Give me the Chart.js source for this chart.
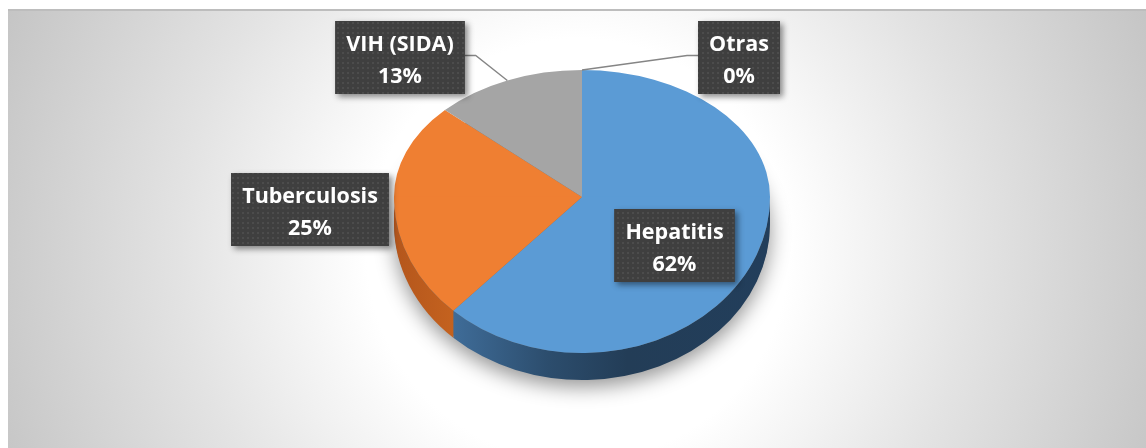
<!DOCTYPE html>
<html><head><meta charset="utf-8">
<script src="https://cdn.jsdelivr.net/npm/chart.js@4.4.0/dist/chart.umd.min.js"></script>
<style>html,body{margin:0;padding:0;background:#fff;overflow:hidden}canvas{display:block}</style>
</head><body>
<canvas id="c" width="1146" height="448"></canvas>
<script>
// ---- data ----
const categories = ['Hepatitis', 'Tuberculosis', 'VIH (SIDA)', 'Otras'];
const values = [62, 25, 13, 0];

// ---- styles ----
const topColors = ['#5b9bd5', '#ef7f32', '#a5a5a5', '#ffc000'];
const sideStops = [
  [[0, '#3f6c98'], [0.3, '#2c4d6d'], [0.55, '#233d57'], [1, '#223e5b']],
  [[0, '#b4561c'], [1, '#c4621f']],
  [[0, '#7c7c7c'], [1, '#7c7c7c']],
  [[0, '#bf9000'], [1, '#bf9000']]
];
const CY_P = 197;     // projected pie centre (y)
const RY_BACK = 127;  // projected radius of the far half
const RY_FRONT = 156; // projected radius of the near half
const DEPTH = 27;     // thickness of the pie
const FONT = 'bold 21.5px "Open Sans"';
const labelBoxes = [  // centre x, top of each label box
  { cx: 674.5, top: 209, leader: false },
  { cx: 310, top: 173, leader: false },
  { cx: 400, top: 21, leader: 'right' },
  { cx: 739, top: 21, leader: 'left' }
];

const total = values.reduce((a, b) => a + b, 0);

function dotPattern(ctx) {
  const p = document.createElement('canvas');
  p.width = 5; p.height = 5;
  const g = p.getContext('2d');
  g.fillStyle = '#3f3f3f'; g.fillRect(0, 0, 5, 5);
  g.fillStyle = '#4c4c4c'; g.fillRect(2, 2, 2, 2);
  return ctx.createPattern(p, 'repeat');
}

function projY(r, ang) {
  const s = Math.sin(ang);
  return CY_P + s * r * (s >= 0 ? RY_FRONT : RY_BACK) / 188;
}

const bgPlugin = {
  id: 'bg',
  beforeDraw(chart) {
    const ctx = chart.ctx;
    ctx.save();
    ctx.fillStyle = '#fff';
    ctx.fillRect(0, 0, chart.width, chart.height);
    const g = ctx.createRadialGradient(578, 250, 0, 578, 250, 640);
    g.addColorStop(0, '#ffffff');
    g.addColorStop(0.33, '#ffffff');
    g.addColorStop(0.62, '#e3e3e3');
    g.addColorStop(1, '#c2c2c2');
    ctx.fillStyle = g;
    ctx.fillRect(8, 9, chart.width - 8, chart.height - 9);
    ctx.fillStyle = '#bdbdbd';
    ctx.fillRect(8, 9, chart.width - 8, 2);
    ctx.restore();
  }
};

const pie3d = {
  id: 'pie3d',
  beforeDatasetsDraw(chart) {
    const ctx = chart.ctx;
    const arcs = chart.getDatasetMeta(0).data;
    const cx = arcs[0].x, cy = arcs[0].y, r = arcs[0].outerRadius;
    const kF = RY_FRONT / r, kB = RY_BACK / r;
    // soft shadow beneath
    ctx.save();
    ctx.shadowColor = 'rgba(0,0,0,0.42)';
    ctx.shadowBlur = 20;
    ctx.shadowOffsetY = 9;
    ctx.beginPath();
    ctx.ellipse(cx, CY_P + DEPTH - 2, r, r * kF, 0, 0, Math.PI, false);
    ctx.ellipse(cx, CY_P + DEPTH - 2, r, r * kB, 0, Math.PI, 2 * Math.PI, false);
    ctx.closePath();
    ctx.fillStyle = '#6a6a6a';
    ctx.fill();
    ctx.restore();
    // side walls of the front half
    arcs.forEach((a, i) => {
      const ranges = [[0, Math.PI], [2 * Math.PI, 3 * Math.PI]];
      ranges.forEach(([lo, hi]) => {
        const s = Math.max(a.startAngle, lo), e = Math.min(a.endAngle, hi);
        if (e - s <= 0.0001) return;
        const x1 = cx + r * Math.cos(e), x2 = cx + r * Math.cos(s);
        const g = ctx.createLinearGradient(Math.min(x1, x2), 0, Math.max(x1, x2), 0);
        sideStops[i].forEach(([o, c]) => g.addColorStop(o, c));
        ctx.save();
        ctx.beginPath();
        ctx.ellipse(cx, CY_P, r, r * kF, 0, s, e, false);
        ctx.ellipse(cx, CY_P + DEPTH, r, r * kF, 0, e, s, true);
        ctx.closePath();
        ctx.fillStyle = g;
        ctx.fill();
        ctx.restore();
      });
    });
    // far half of the top face (library draws it)
    ctx.save();
    ctx.beginPath();
    ctx.rect(0, 0, chart.width, CY_P + 0.5);
    ctx.clip();
    ctx.translate(0, CY_P);
    ctx.scale(1, kB);
    ctx.translate(0, -cy);
  },
  afterDatasetsDraw(chart) {
    const ctx = chart.ctx;
    ctx.restore();
    // near half of the top face
    const meta = chart.getDatasetMeta(0);
    const cy = meta.data[0].y, r = meta.data[0].outerRadius;
    ctx.save();
    ctx.beginPath();
    ctx.rect(0, CY_P - 0.5, chart.width, chart.height);
    ctx.clip();
    ctx.translate(0, CY_P);
    ctx.scale(1, RY_FRONT / r);
    ctx.translate(0, -cy);
    meta.controller.draw();
    ctx.restore();
  },
  afterDraw(chart) {
    const ctx = chart.ctx;
    const arcs = chart.getDatasetMeta(0).data;
    const cx = arcs[0].x, r = arcs[0].outerRadius;
    const pat = dotPattern(ctx);
    ctx.save();
    ctx.font = FONT;
    const boxes = labelBoxes.map((b, i) => {
      const pct = Math.round(values[i] / total * 100) + '%';
      const w = Math.max(ctx.measureText(categories[i]).width, ctx.measureText(pct).width) + 22;
      return { x: b.cx - w / 2, y: b.top, w: w, h: 73, pct: pct, leader: b.leader, i: i };
    });
    // leader lines
    ctx.strokeStyle = '#858585';
    ctx.lineWidth = 1.4;
    boxes.forEach(b => {
      if (!b.leader) return;
      const a = arcs[b.i];
      const mid = (a.startAngle + a.endAngle) / 2;
      const px = cx + r * Math.cos(mid), py = projY(r, mid);
      const ly = b.y + b.h / 2 - 2;
      const sx = b.leader === 'right' ? b.x + b.w : b.x;
      const kx = b.leader === 'right' ? sx + 11 : sx - 11;
      ctx.beginPath();
      ctx.moveTo(sx, ly); ctx.lineTo(kx, ly); ctx.lineTo(px, py);
      ctx.stroke();
    });
    // boxes
    boxes.forEach(b => {
      ctx.save();
      ctx.shadowColor = 'rgba(0,0,0,0.45)';
      ctx.shadowBlur = 6;
      ctx.shadowOffsetX = 3;
      ctx.shadowOffsetY = 3;
      ctx.fillStyle = '#3f3f3f';
      ctx.fillRect(b.x, b.y, b.w, b.h);
      ctx.restore();
      ctx.fillStyle = pat;
      ctx.fillRect(b.x, b.y, b.w, b.h);
      ctx.fillStyle = '#ffffff';
      ctx.textAlign = 'center';
      ctx.textBaseline = 'alphabetic';
      ctx.fillText(categories[b.i], b.x + b.w / 2, b.y + 30);
      ctx.fillText(b.pct, b.x + b.w / 2, b.y + 62);
    });
    ctx.restore();
  }
};

new Chart(document.getElementById('c'), {
  type: 'pie',
  data: {
    labels: categories,
    datasets: [{
      data: values,
      backgroundColor: topColors,
      borderWidth: 0,
      clip: false
    }]
  },
  options: {
    responsive: false,
    animation: false,
    events: [],
    layout: { padding: { left: 394, right: 376, top: 36, bottom: 36 } },
    plugins: { legend: { display: false }, tooltip: { enabled: false } }
  },
  plugins: [bgPlugin, pie3d]
});
</script>
</body></html>
